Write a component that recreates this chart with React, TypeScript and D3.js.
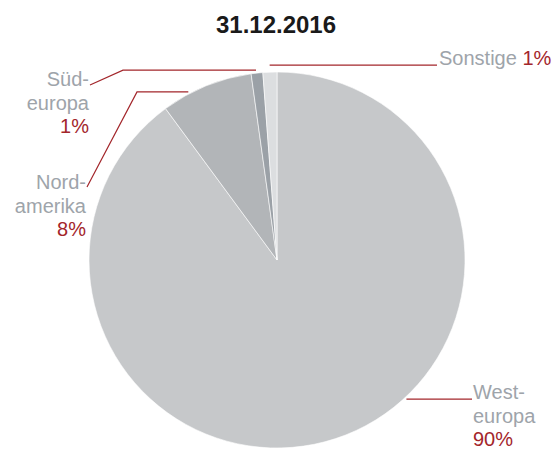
import React from "react";
import * as d3 from "d3";

const title = "31.12.2016";
const regions = ["Westeuropa", "Nordamerika", "Südeuropa", "Sonstige"];
const shares = [89.9, 7.9, 1.0, 1.2];
const shareLabels = ["90%", "8%", "1%", "1%"];
const labelLines = [["West-", "europa"], ["Nord-", "amerika"], ["Süd-", "europa"], ["Sonstige"]];
const colors = ["#c6c8ca", "#b2b5b8", "#9ba1a7", "#dcdee0"];

const W = 553;
const H = 450;
const cx = 277;
const cy = 260;
const R = 188;
const red = "#a3262b";
const gray = "#9ea4aa";
const font = "'Liberation Sans', Arial, sans-serif";

const leaders = [
  { frac: 0.4235, off: 2, elbowX: 472, endX: 472, endY: null as number | null, anchor: "start", tx: 473, ty: 399 },
  { frac: 0.3, off: 2, elbowX: 137, endX: 87, endY: 187, anchor: "end", tx: 86, ty: 189 },
  { frac: 0.45, off: 3, elbowX: 123, endX: 90, endY: 85, anchor: "end", tx: 89, ty: 86 },
  { frac: 0.5, off: 7, elbowX: 437, endX: 437, endY: null as number | null, anchor: "start", tx: 439, ty: 65 },
];

export default function App() {
  const pie = d3.pie<number>().sort(null).value((d) => d);
  const arcs = pie(shares);
  const arcGen = d3.arc<d3.PieArcDatum<number>>().innerRadius(0).outerRadius(R);
  const lh = 23.5;

  return (
    <svg width={W} height={H} style={{ display: "block", position: "absolute", left: 0, top: 0 }}>
      <rect width={W} height={H} fill="#fff" />
      <text x={276} y={33} textAnchor="middle" fontFamily={font} fontWeight="bold" fontSize={24} fill="#1a1a1a">
        {title}
      </text>
      <g transform={`translate(${cx},${cy})`}>
        {arcs.map((a, i) => (
          <path key={regions[i]} d={arcGen(a) || ""} fill={colors[i]} stroke="#fff" strokeWidth={0.6} />
        ))}
      </g>
      {arcs.map((a, i) => {
        const L = leaders[i];
        const ang = a.startAngle + L.frac * (a.endAngle - a.startAngle);
        const r = R + L.off;
        const sx = cx + r * Math.sin(ang);
        const sy = cy - r * Math.cos(ang);
        const pts: [number, number][] = [[sx, sy], [L.elbowX, sy]];
        if (L.endY !== null) pts.push([L.endX, L.endY]);
        const line = d3.line();
        const lines = labelLines[i];
        return (
          <g key={"l" + i}>
            <path d={line(pts) || ""} fill="none" stroke={red} strokeWidth={1.2} />
            {lines.length === 1 ? (
              <text x={L.tx} y={L.ty} fontFamily={font} fontSize={20} textAnchor={L.anchor as any}>
                <tspan fill={gray}>{lines[0]} </tspan>
                <tspan fill={red}>{shareLabels[i]}</tspan>
              </text>
            ) : (
              <text fontFamily={font} fontSize={20} textAnchor={L.anchor as any}>
                {lines.map((t, k) => (
                  <tspan key={k} x={L.tx} y={L.ty + k * lh} fill={gray}>
                    {t}
                  </tspan>
                ))}
                <tspan x={L.tx} y={L.ty + lines.length * lh} fill={red}>
                  {shareLabels[i]}
                </tspan>
              </text>
            )}
          </g>
        );
      })}
    </svg>
  );
}
